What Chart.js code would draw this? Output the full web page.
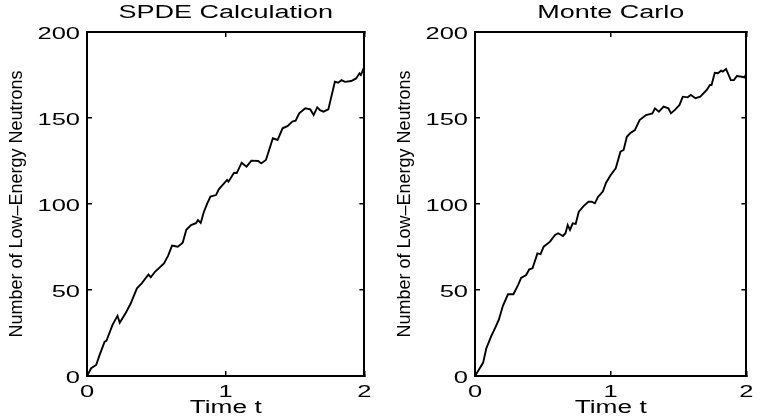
<!DOCTYPE html>
<html>
<head>
<meta charset="utf-8">
<script src="https://cdn.jsdelivr.net/npm/chart.js@4"></script>
<style>
  html, body { margin: 0; padding: 0; background: #fff; }
  #wrap { position: relative; width: 765px; height: 419px; }
  .panel { position: absolute; top: 0; height: 419px; }
  #left { left: 0; width: 383px; }
  #right { left: 383px; width: 382px; }
</style>
</head>
<body>
<div id="wrap">
  <div class="panel" id="left"><canvas id="spde"></canvas></div>
  <div class="panel" id="right"><canvas id="mc"></canvas></div>
</div>
<script>
// values
const xTicks = [0, 1, 2];
const yTicks = [0, 50, 100, 150, 200];

const spdeTime = [0, 0.03, 0.066, 0.09, 0.127, 0.14, 0.184, 0.22, 0.236, 0.28, 0.314, 0.36, 0.396, 0.443, 0.46,
  0.49, 0.555, 0.585, 0.613, 0.655, 0.69, 0.716, 0.75, 0.786, 0.8, 0.82, 0.843, 0.867, 0.89, 0.93, 0.95, 1.01,
  1.02, 1.06, 1.08, 1.115, 1.15, 1.185, 1.234, 1.256, 1.29, 1.34, 1.374, 1.41, 1.445, 1.48, 1.504, 1.53, 1.574,
  1.61, 1.634, 1.66, 1.68, 1.705, 1.74, 1.787, 1.81, 1.835, 1.86, 1.905, 1.94, 1.965, 1.975, 1.995];
const spdeCount = [0, 4.5, 6.4, 12, 20, 20.5, 29.7, 35, 31, 36.8, 42, 51, 54, 59, 57.4,
  60.6, 65.5, 70, 75.8, 75.2, 77.5, 85, 87.8, 88.8, 90.7, 89, 95.5, 100.4, 104.3, 105.2, 108.5, 114,
  113, 118.2, 118, 124, 121.7, 125.2, 125, 123.6, 125.6, 138.2, 137.2, 144, 145.3, 147.9, 148.4, 152.7, 155.6,
  155, 151.7, 156.2, 154.6, 153.7, 155, 171.1, 170.5, 172, 171, 171.5, 173, 176, 175, 179];

const mcTime = [0, 0.035, 0.06, 0.083, 0.118, 0.153, 0.177, 0.205, 0.243, 0.283, 0.318, 0.34, 0.377, 0.4, 0.424,
  0.46, 0.483, 0.506, 0.553, 0.59, 0.613, 0.648, 0.667, 0.683, 0.7, 0.72, 0.742, 0.765, 0.8, 0.836, 0.86, 0.883,
  0.907, 0.942, 0.966, 1.0, 1.037, 1.072, 1.095, 1.119, 1.143, 1.178, 1.213, 1.26, 1.307, 1.326, 1.355, 1.39,
  1.425, 1.444, 1.477, 1.507, 1.531, 1.567, 1.59, 1.625, 1.66, 1.708, 1.731, 1.743, 1.767, 1.79, 1.814, 1.826,
  1.85, 1.885, 1.908, 1.93, 1.967, 1.986, 2.0];
const mcCount = [0, 4.5, 7.8, 16, 22.9, 28.7, 33, 40.7, 47.5, 47.5, 53, 57, 58.7, 62, 62.6,
  71.3, 70.8, 75.2, 78.1, 82, 83, 81.4, 83, 87.8, 85, 88.8, 88.4, 95.5, 98.8, 101.3, 101.3, 100.4,
  104.2, 107.2, 112.4, 116.9, 120.8, 130.4, 131.4, 139.1, 141.1, 143, 148.8, 151.7, 152.7, 155.6, 153.7, 156.6,
  155.6, 152.7, 155, 157.6, 162.4, 162, 163.4, 161.5, 162.4, 166.3, 169.2, 169.2, 176.3, 176, 177.5, 177,
  178.5, 172, 172, 174.4, 174, 173.6, 176];

const FONT = "'Liberation Sans', Arial, Helvetica, sans-serif";
const STRETCH = 1.5; // horizontal lettering in the original is drawn wide; the rotated title is not

// widen horizontal strings only
const wideText = {
    id: 'wideText',
    beforeInit(chart) {
        const ctx = chart.ctx;
        const fill = ctx.fillText.bind(ctx);
        const measure = ctx.measureText.bind(ctx);
        ctx.fillText = (txt, x, y, maxW) => {
            const s = ctx.getTransform().b ? 1 : STRETCH;
            ctx.save();
            ctx.translate(x, y);
            ctx.scale(s, 1);
            if (maxW === undefined) fill(txt, 0, 0);
            else fill(txt, 0, 0, maxW / s);
            ctx.restore();
        };
        ctx.measureText = txt => {
            const m = measure(txt);
            return {
                width: m.width * STRETCH,
                actualBoundingBoxAscent: m.actualBoundingBoxAscent,
                actualBoundingBoxDescent: m.actualBoundingBoxDescent,
                actualBoundingBoxLeft: m.actualBoundingBoxLeft * STRETCH,
                actualBoundingBoxRight: m.actualBoundingBoxRight * STRETCH,
            };
        };
    },
};

function makePanel(id, title, times, counts, yAxisWidth, padRight, yTitlePad) {
    const points = times.map((t, i) => ({ x: t, y: counts[i] }));
    const edge = { display: true, color: '#000', width: 2 };
    const inward = { drawOnChartArea: false, drawTicks: true, tickLength: -5, color: '#000', lineWidth: 1.5 };
    const tickFont = { family: FONT, size: 17 };
    const setX = s => { s.ticks = xTicks.map(v => ({ value: v })); };
    const setY = s => { s.ticks = yTicks.map(v => ({ value: v })); };

    return new Chart(document.getElementById(id), {
        type: 'line',
        data: {
            datasets: [{
                data: points,
                borderColor: '#000',
                borderWidth: 1.9,
                pointRadius: 0,
                fill: false,
                tension: 0,
            }],
        },
        options: {
            responsive: true,
            maintainAspectRatio: false,
            animation: false,
            layout: { padding: { left: 0, right: padRight, top: 0, bottom: 0 } },
            plugins: {
                legend: { display: false },
                tooltip: { enabled: false },
                title: {
                    display: true,
                    text: title,
                    fullSize: false,
                    color: '#000',
                    font: { family: FONT, size: 18, weight: 'normal' },
                    padding: { top: 2, bottom: 8.4 },
                },
            },
            scales: {
                x: {
                    type: 'linear', position: 'bottom', min: 0, max: 2,
                    afterBuildTicks: setX,
                    border: edge, grid: inward,
                    ticks: { color: '#000', font: tickFont, padding: 11.5, maxRotation: 0, autoSkip: false },
                    title: { display: true, text: 'Time t', color: '#000', font: { family: FONT, size: 17.5 }, padding: { top: 0, bottom: 0 } },
                    afterFit: s => { s.height = 43; },
                },
                x2: {
                    type: 'linear', position: 'top', min: 0, max: 2,
                    afterBuildTicks: setX,
                    border: edge, grid: inward,
                    ticks: { display: false },
                    afterFit: s => { s.height = 0; },
                },
                y: {
                    type: 'linear', position: 'left', min: 0, max: 200,
                    afterBuildTicks: setY,
                    border: edge, grid: inward,
                    ticks: { color: '#000', font: tickFont, padding: 12, labelOffset: 2 },
                    title: {
                        display: true, text: 'Number of Low–Energy Neutrons', color: '#000',
                        font: { family: FONT, size: 18 }, padding: { top: yTitlePad, bottom: 0 },
                    },
                    afterFit: s => { s.width = yAxisWidth; },
                },
                y2: {
                    type: 'linear', position: 'right', min: 0, max: 200,
                    afterBuildTicks: setY,
                    border: edge, grid: inward,
                    ticks: { display: false },
                    afterFit: s => { s.width = 0; },
                },
            },
        },
        plugins: [wideText],
    });
}

makePanel('spde', 'SPDE Calculation', spdeTime, spdeCount, 87, 13, 6.5);
makePanel('mc', 'Monte Carlo', mcTime, mcCount, 92, 7, 11.5);
</script>
</body>
</html>
